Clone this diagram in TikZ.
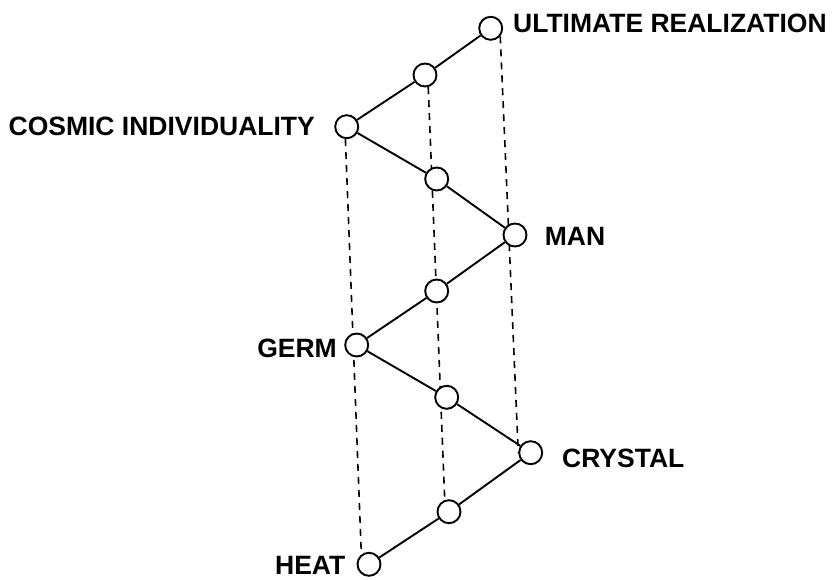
\documentclass[tikz,border=0pt]{standalone}
\usepackage{fontspec}
\setmainfont{Liberation Sans}
\usetikzlibrary{positioning,backgrounds}

\begin{document}
\begin{tikzpicture}[
        x=1pt, y=-1pt,
        dot/.style={circle, draw, fill=white, minimum size=23pt, inner sep=0pt, line width=1.9pt},
        tag/.style={font=\fontsize{26.5}{30}\selectfont\bfseries, inner sep=0pt},
        link/.style={draw, line width=1.9pt},
        guide/.style={draw, dash pattern=on 7pt off 6pt, line width=1.6pt}
    ]
    \useasboundingbox (0,0) rectangle (836,580);

    % Stages of the spiral
    \node [dot] (ultimate) at (490.7,28.3) {};
    \node [dot] (midUC) at (425,75) {};
    \node [dot] (cosmic) at (346.7,126.7) {};
    \node [dot] (midCM) at (436.7,179) {};
    \node [dot] (man) at (515,235) {};
    \node [dot] (midMG) at (436.7,291) {};
    \node [dot] (germ) at (356.7,345) {};
    \node [dot] (midGK) at (446.7,397.3) {};
    \node [dot] (crystal) at (530.7,452.7) {};
    \node [dot] (midKH) at (449,511.7) {};
    \node [dot] (heat) at (369,564.3) {};

    % Labels
    \node [tag, right=9.8pt of ultimate, yshift=4.8pt] (ultimatetxt) {ULTIMATE REALIZATION};
    \node [tag, left=19.2pt of cosmic] (cosmictxt) {COSMIC INDIVIDUALITY};
    \node [tag, right=17.2pt of man, yshift=-1.7pt] (mantxt) {MAN};
    \node [tag, left=7.3pt of germ, yshift=-3.3pt] (germtxt) {GERM};
    \node [tag, right=18.8pt of crystal, yshift=-5.6pt] (crystaltxt) {CRYSTAL};
    \node [tag, left=11pt of heat, yshift=-0.7pt] (heattxt) {HEAT};

    % Zigzag
    \path [link] (heat) -- (midKH) -- (crystal) -- (midGK) -- (germ) -- (midMG)
        -- (man) -- (midCM) -- (cosmic) -- (midUC) -- (ultimate);

    % Vertical guides behind the circles
    \begin{scope}[on background layer]
        \path [guide] (cosmic.-96) -- (heat.128);
        \path [guide] (midUC.-75) -- (midKH.110);
        \path [guide] (ultimate.-40) -- (crystal.west);
    \end{scope}

\end{tikzpicture}
\end{document}
